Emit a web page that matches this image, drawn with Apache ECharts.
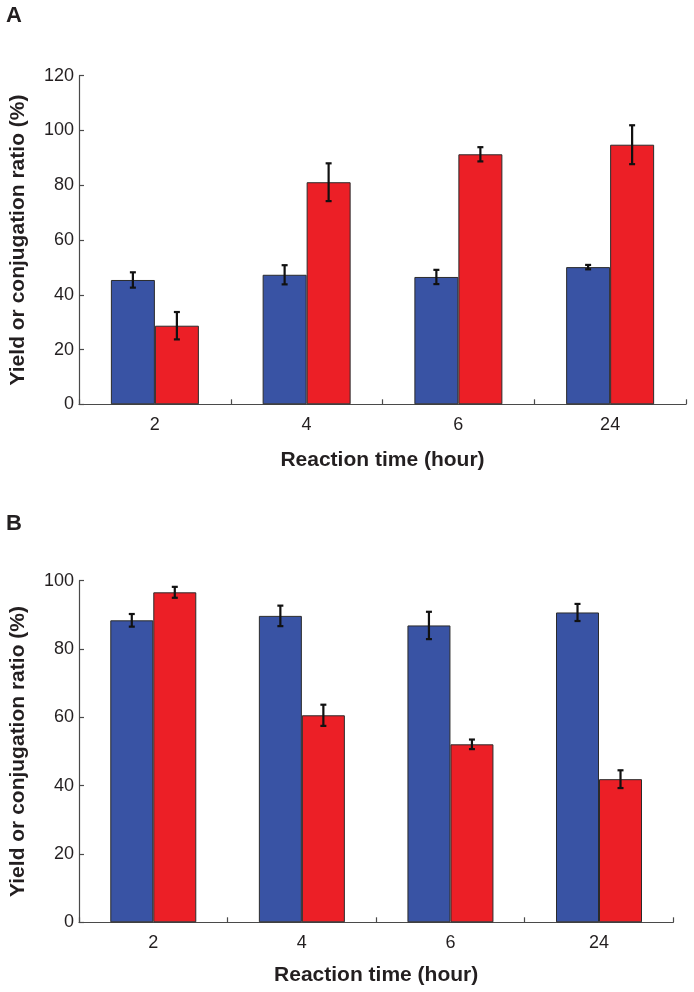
<!DOCTYPE html>
<html>
<head>
<meta charset="utf-8">
<script src="https://cdn.jsdelivr.net/npm/echarts@6/dist/echarts.min.js"></script>
<style>
html,body{margin:0;padding:0;background:#fff;}
#chart{width:694px;height:992px;}
</style>
</head>
<body>
<div id="chart"></div>
<script>
// ---- data ----
var categories = ['2', '4', '6', '24'];
var yTicksA = [0, 20, 40, 60, 80, 100, 120];
var yTicksB = [0, 20, 40, 60, 80, 100];
// Panel A
var blueA = [45.4, 47.3, 46.5, 50.1];
var blueErrA = [2.8, 3.5, 2.6, 0.8];
var redA = [28.7, 81.1, 91.3, 94.8];
var redErrA = [5.0, 6.9, 2.6, 7.1];
// Panel B
var blueB = [88.4, 89.7, 86.9, 90.7];
var blueErrB = [1.85, 3.0, 4.0, 2.5];
var redB = [96.6, 60.6, 52.1, 41.9];
var redErrB = [1.6, 3.1, 1.4, 2.6];

var xName = 'Reaction time (hour)';
var yName = 'Yield or conjugation ratio (%)';

var BLUE = '#3953a4';
var RED = '#ec1f26';
var BORDER = '#2b2b2b';
var AXIS = '#4a4a4a';
var TEXT = '#231f20';
var FONT = 'Liberation Sans, Arial, sans-serif';

var chart = echarts.init(document.getElementById('chart'), null, {renderer: 'canvas'});

function xAxisCfg(gi, gap) {
  return {
    type: 'category', gridIndex: gi, data: categories,
    name: xName, nameLocation: 'middle', nameGap: gap,
    nameTextStyle: {fontFamily: FONT, fontSize: 21, fontWeight: 'bold', color: TEXT},
    axisLine: {show: true, lineStyle: {color: AXIS, width: 1.2}},
    axisTick: {show: true, inside: true, length: 5, alignWithLabel: false, lineStyle: {color: AXIS, width: 1.2}},
    axisLabel: {fontFamily: FONT, fontSize: 18, color: TEXT, margin: 12},
    splitLine: {show: false}
  };
}
function yAxisCfg(gi, maxV) {
  return {
    type: 'value', gridIndex: gi, min: 0, max: maxV, interval: 20,
    name: yName, nameLocation: 'middle', nameGap: 50, nameRotate: 90,
    nameTextStyle: {fontFamily: FONT, fontSize: 21, fontWeight: 'bold', color: TEXT},
    axisLine: {show: true, lineStyle: {color: AXIS, width: 1.2}},
    axisTick: {show: true, inside: true, length: 5, lineStyle: {color: AXIS, width: 1.2}},
    axisLabel: {fontFamily: FONT, fontSize: 18, color: TEXT, margin: 5},
    splitLine: {show: false}
  };
}

function barSeries(gi, name, data, color, bw) {
  return {
    type: 'bar', name: name, xAxisIndex: gi, yAxisIndex: gi,
    data: data, barWidth: bw, barGap: '0%',
    itemStyle: {color: color, borderColor: BORDER, borderWidth: 1},
    z: 2
  };
}

function errSeries(gi, vals, errs, side, bw) {
  var d = vals.map(function (v, i) { return [i, v, errs[i]]; });
  return {
    type: 'custom', xAxisIndex: gi, yAxisIndex: gi, z: 5,
    data: d,
    renderItem: function (params, api) {
      var i = api.value(0), v = api.value(1), e = api.value(2);
      var c = api.coord([i, v]);
      var hi = api.coord([i, v + e]);
      var lo = api.coord([i, v - e]);
      var x = c[0] + side * bw / 2;
      var cap = 3;
      var st = {stroke: '#111', lineWidth: 2.2};
      return {
        type: 'group',
        children: [
          {type: 'line', shape: {x1: x, y1: hi[1], x2: x, y2: lo[1]}, style: st},
          {type: 'line', shape: {x1: x - cap, y1: hi[1], x2: x + cap, y2: hi[1]}, style: st},
          {type: 'line', shape: {x1: x - cap, y1: lo[1], x2: x + cap, y2: lo[1]}, style: st}
        ]
      };
    }
  };
}

var option = {
  animation: false,
  backgroundColor: '#fff',
  grid: [
    {left: 76, top: 75.7, width: 610, height: 328.6, containLabel: false},
    {left: 77.3, top: 580.7, width: 596, height: 341.6, containLabel: false}
  ],
  xAxis: [xAxisCfg(0, 45), xAxisCfg(1, 42)],
  yAxis: [yAxisCfg(0, 120), yAxisCfg(1, 100)],
  graphic: [
    {type: 'text', left: 6, top: 5, style: {text: 'A', font: 'bold 22px ' + FONT, fill: TEXT}},
    {type: 'text', left: 6, top: 513, style: {text: 'B', font: 'bold 22px ' + FONT, fill: TEXT}}
  ],
  series: [
    barSeries(0, 'blue', blueA, BLUE, 44),
    barSeries(0, 'red', redA, RED, 44),
    barSeries(1, 'blue', blueB, BLUE, 43),
    barSeries(1, 'red', redB, RED, 43),
    errSeries(0, blueA, blueErrA, -1, 44),
    errSeries(0, redA, redErrA, 1, 44),
    errSeries(1, blueB, blueErrB, -1, 43),
    errSeries(1, redB, redErrB, 1, 43)
  ]
};
chart.setOption(option);
</script>
</body>
</html>
